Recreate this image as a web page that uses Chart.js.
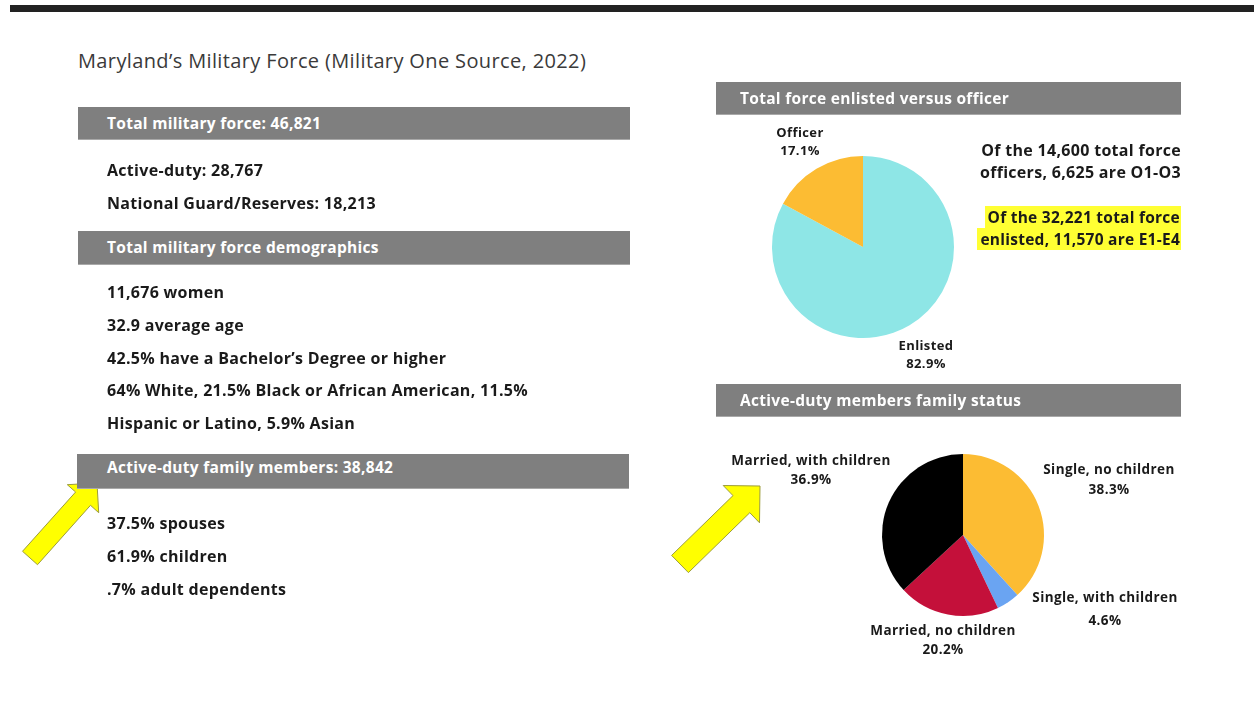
<!DOCTYPE html>
<html><head><meta charset="utf-8">
<script src="https://cdn.jsdelivr.net/npm/chart.js@4.4.0/dist/chart.umd.min.js"></script>
<style>
html,body{margin:0;padding:0;background:#fff;}
#page{position:relative;width:1254px;height:709px;overflow:hidden;background:#fff;font-family:"Open Sans",sans-serif;color:#1a1a1a;}
.topbar{position:absolute;left:10px;top:5px;width:1244px;height:7px;background:#222;}
.title{position:absolute;left:78px;top:47px;font-size:20px;font-weight:400;letter-spacing:0.37px;color:#3a3a3a;line-height:28px;white-space:nowrap;}
.band{position:absolute;background:#7f7f7f;color:#fff;font-weight:700;font-size:15.5px;letter-spacing:0.3px;white-space:nowrap;box-sizing:border-box;border-bottom:1px solid #a9a9a9;}
.band span{position:absolute;line-height:20px;}
.line{position:absolute;font-weight:700;font-size:16px;letter-spacing:0.3px;line-height:20px;white-space:nowrap;}
.lbl{position:absolute;font-weight:700;letter-spacing:0.4px;white-space:nowrap;transform:translateX(-50%);text-align:center;}
.lbl div{line-height:14px;}
.hl{position:absolute;right:73px;top:207px;font-weight:700;font-size:15.5px;letter-spacing:0.25px;line-height:21.5px;text-align:right;white-space:nowrap;}
.hl span{background:#ffff33;padding:0 1px 0 3px;box-decoration-break:clone;-webkit-box-decoration-break:clone;}
canvas{position:absolute;}
svg{position:absolute;left:0;top:0;}
</style></head>
<body>
<div id="page">
  <div class="topbar"></div>
  <div class="title">Maryland’s Military Force (Military One Source, 2022)</div>
  <canvas id="pie1" width="200" height="200" style="left:763px;top:147px;width:200px;height:200px"></canvas>
  <canvas id="pie2" width="200" height="200" style="left:863px;top:435px;width:200px;height:200px"></canvas>
  <svg id="arrows" width="1254" height="709"></svg>
</div>
<script>
// ---- data ----
const pieOneLabels = ['Enlisted', 'Officer'];
const pieOneValues = [82.9, 17.1];
const pieOneColors = ['#8ee6e6', '#fcbc33'];

const pieTwoLabels = ['Single, no children', 'Single, with children', 'Married, no children', 'Married, with children'];
const pieTwoValues = [38.3, 4.6, 20.2, 36.9];
const pieTwoColors = ['#fcbc33', '#6aa4f2', '#c4103a', '#000000'];

const headingTexts = [
  'Total military force: 46,821',
  'Total military force demographics',
  'Active-duty family members: 38,842',
  'Total force enlisted versus officer',
  'Active-duty members family status'
];
const factTexts = [
  'Active-duty: 28,767',
  'National Guard/Reserves: 18,213',
  '11,676 women',
  '32.9 average age',
  '42.5% have a Bachelor’s Degree or higher',
  '64% White, 21.5% Black or African American, 11.5%',
  'Hispanic or Latino, 5.9% Asian',
  '37.5% spouses',
  '61.9% children',
  '.7% adult dependents'
];
const officerNote = ['Of the 14,600 total force', 'officers, 6,625 are O1-O3'];
const enlistedNote = ['Of the 32,221 total force', 'enlisted, 11,570 are E1-E4'];

// ---- layout (positions only) ----
const page = document.getElementById('page');
const bandBoxes = [
  [78, 107, 552, 33, 29],
  [78, 231, 552, 34, 29],
  [77, 454, 552, 35, 30],
  [716, 82, 465, 33, 24],
  [716, 384, 465, 33, 24]
];
headingTexts.forEach((t, i) => {
  const [x, y, w, h, pad] = bandBoxes[i];
  const d = document.createElement('div');
  d.className = 'band';
  d.style.cssText += `left:${x}px;top:${y}px;width:${w}px;height:${h}px;`;
  const s = document.createElement('span');
  s.textContent = t;
  s.style.left = pad + 'px';
  s.style.top = (i === 2 ? 3 : (h - 20) / 2 - 1) + 'px';
  d.appendChild(s);
  page.appendChild(d);
});
const factY = [170, 203, 292, 325, 358, 390, 423, 523, 556, 589];
factTexts.forEach((t, i) => {
  const d = document.createElement('div');
  d.className = 'line';
  d.textContent = t;
  d.style.left = '107px';
  d.style.top = (factY[i] - 10) + 'px';
  page.appendChild(d);
});
// officer note
const on = document.createElement('div');
on.className = 'line';
on.style.cssText += 'right:73px;top:140px;text-align:right;line-height:21.5px;';
on.innerHTML = officerNote.join('<br>');
page.appendChild(on);
const hl = document.createElement('div');
hl.className = 'hl';
hl.innerHTML = enlistedNote.map(s => '<span>' + s + '</span>').join('<br>');
page.appendChild(hl);

// pie labels
function addLabel(name, value, cx, y1, y2, fs) {
  const d = document.createElement('div');
  d.className = 'lbl';
  d.style.left = cx + 'px';
  d.style.top = (y1 - 7) + 'px';
  d.style.fontSize = fs + 'px';
  const a = document.createElement('div'); a.textContent = name;
  const b = document.createElement('div'); b.textContent = value.toFixed(1) + '%';
  b.style.marginTop = (y2 - y1 - 14) + 'px';
  d.appendChild(a); d.appendChild(b);
  page.appendChild(d);
}
const pieOneLabelPos = [[926, 345, 363, 13], [800, 132, 150, 13]];
pieOneLabels.forEach((n, i) => addLabel(n, pieOneValues[i], ...pieOneLabelPos[i]));
const pieTwoLabelPos = [[1109, 469, 489, 13.5], [1105, 597, 620, 13.5], [943, 630, 649, 13.5], [811, 460, 479, 13.5]];
pieTwoLabels.forEach((n, i) => addLabel(n, pieTwoValues[i], ...pieTwoLabelPos[i]));

// arrows (decoration)
function arrowPoints(tip, tail, halfShaft, headLen, halfHead) {
  const dx = tip[0] - tail[0], dy = tip[1] - tail[1];
  const L = Math.hypot(dx, dy);
  const ux = dx / L, uy = dy / L, px = -uy, py = ux;
  const bx = tip[0] - ux * headLen, by = tip[1] - uy * headLen;
  const P = (x, y) => x.toFixed(1) + ',' + y.toFixed(1);
  return [
    P(tail[0] + px * halfShaft, tail[1] + py * halfShaft),
    P(bx + px * halfShaft, by + py * halfShaft),
    P(bx + px * halfHead, by + py * halfHead),
    P(tip[0], tip[1]),
    P(bx - px * halfHead, by - py * halfHead),
    P(bx - px * halfShaft, by - py * halfShaft),
    P(tail[0] - px * halfShaft, tail[1] - py * halfShaft)
  ].join(' ');
}
const svg = document.getElementById('arrows');
[
  [[97, 483], [30, 558], 10, 21, 21],
  [[760, 486], [680, 564], 12, 26, 26]
].forEach(a => {
  const p = document.createElementNS('http://www.w3.org/2000/svg', 'polygon');
  p.setAttribute('points', arrowPoints(...a));
  p.setAttribute('fill', '#ffff00');
  p.setAttribute('stroke', '#9c9c3c');
  p.setAttribute('stroke-width', '1');
  svg.appendChild(p);
});

// ---- charts ----
function makePie(id, labels, values, colors, pad) {
  new Chart(document.getElementById(id), {
    type: 'pie',
    data: { labels: labels, datasets: [{ data: values, backgroundColor: colors, borderWidth: 0 }] },
    options: {
      responsive: false, animation: false,
      layout: { padding: pad },
      plugins: { legend: { display: false }, tooltip: { enabled: false } }
    }
  });
}
makePie('pie1', pieOneLabels, pieOneValues, pieOneColors, 9);
makePie('pie2', pieTwoLabels, pieTwoValues, pieTwoColors, 19);
</script>
</body></html>
